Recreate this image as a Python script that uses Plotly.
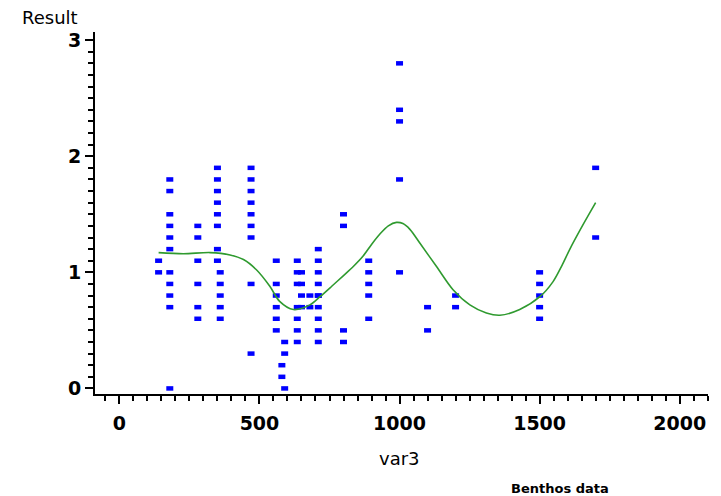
import plotly.graph_objects as go

# scatter data (var3, Result)
var3 = (
    [140, 140]
    + [180] * 11
    + [280] * 6
    + [350] * 8
    + [360] * 5
    + [470] * 9
    + [560] * 6
    + [580, 580]
    + [590, 590, 590]
    + [635, 635, 635, 635, 635, 635, 635]
    + [650, 650, 650, 650]
    + [680, 680]
    + [710] * 10
    + [800] * 4
    + [890] * 5
    + [1000] * 5
    + [1100] * 2
    + [1200] * 2
    + [1500] * 5
    + [1700] * 2
)
result = (
    [1.1, 1.0]
    + [1.8, 1.7, 1.5, 1.4, 1.3, 1.2, 1.0, 0.9, 0.8, 0.7, 0.0]
    + [1.4, 1.3, 1.1, 0.9, 0.7, 0.6]
    + [1.9, 1.8, 1.7, 1.6, 1.5, 1.4, 1.2, 1.1]
    + [1.0, 0.9, 0.8, 0.7, 0.6]
    + [1.9, 1.8, 1.7, 1.6, 1.5, 1.4, 1.3, 0.9, 0.3]
    + [1.1, 0.9, 0.8, 0.7, 0.6, 0.5]
    + [0.2, 0.1]
    + [0.4, 0.3, 0.0]
    + [1.1, 1.0, 0.9, 0.7, 0.6, 0.5, 0.4]
    + [1.0, 0.9, 0.8, 0.7]
    + [0.8, 0.7]
    + [1.2, 1.1, 1.0, 0.9, 0.8, 0.8, 0.7, 0.6, 0.5, 0.4]
    + [1.5, 1.4, 0.5, 0.4]
    + [1.1, 1.0, 0.9, 0.8, 0.6]
    + [2.8, 2.4, 2.3, 1.8, 1.0]
    + [0.7, 0.5]
    + [0.8, 0.7]
    + [1.0, 0.9, 0.8, 0.7, 0.6]
    + [1.9, 1.3]
)

# smoothed fit curve
fit_x = [140, 228, 324, 395, 443, 490, 537, 572, 621, 680, 716, 758, 799, 835,
         870, 900, 930, 960, 989, 1012, 1037, 1073, 1132, 1191, 1251, 1310, 1358,
         1429, 1501, 1548, 1580, 1608, 1655, 1700]
fit_y = [1.17, 1.16, 1.17, 1.15, 1.11, 1.02, 0.88, 0.75, 0.68, 0.72, 0.79, 0.88,
         0.97, 1.05, 1.14, 1.24, 1.33, 1.40, 1.43, 1.42, 1.37, 1.25, 1.05, 0.85, 0.72,
         0.65, 0.63, 0.68, 0.79, 0.92, 1.06, 1.20, 1.41, 1.60]

x_ticks = [0, 500, 1000, 1500, 2000]
y_ticks = [0, 1, 2, 3]

fig = go.Figure()
fig.add_trace(go.Scatter(
    x=var3, y=result, mode="markers",
    marker=dict(symbol="line-ew", size=5, color="#0000ff",
                line=dict(color="#0000ff", width=4.5)),
    showlegend=False, hoverinfo="x+y"))
fig.add_trace(go.Scatter(
    x=fit_x, y=fit_y, mode="lines",
    line=dict(color="#2f9a2f", width=1.6, shape="spline", smoothing=0.9),
    showlegend=False))

L, R, T, B = 95, 708.3, 31.7, 394.3
W, H = 721, 496

def px(xp):
    return (xp - L) / (R - L)

def py(yp):
    return (B - yp) / (B - T)

tickfont = dict(family="DejaVu Sans", size=19, color="black", weight="bold")

fig.update_layout(
    width=W, height=H,
    margin=dict(l=L, r=W - R, t=T, b=H - B, pad=0),
    paper_bgcolor="white", plot_bgcolor="white",
    xaxis=dict(range=[-87, 2101], tickvals=x_ticks, ticktext=[str(v) for v in x_ticks],
               showgrid=False, zeroline=False, showline=True, linecolor="black",
               linewidth=2, ticks="outside", ticklen=8, tickwidth=2, tickcolor="black",
               tickfont=tickfont, ticklabelstandoff=3, automargin=False,
               minor=dict(dtick=50, tick0=0, ticks="outside", ticklen=5, tickwidth=1.5,
                          tickcolor="black", showgrid=False)),
    yaxis=dict(range=[-0.048, 3.07], tickvals=y_ticks, ticktext=[str(v) for v in y_ticks],
               showgrid=False, zeroline=False, showline=True, linecolor="black",
               linewidth=2, ticks="outside", ticklen=8, tickwidth=2, tickcolor="black",
               tickfont=tickfont, ticklabelstandoff=0, automargin=False,
               minor=dict(dtick=0.1, tick0=0, ticks="outside", ticklen=5, tickwidth=1.5,
                          tickcolor="black", showgrid=False)),
    annotations=[
        dict(text="Result", x=px(50), y=py(17), xref="paper", yref="paper",
             xanchor="center", yanchor="middle", showarrow=False,
             font=dict(family="DejaVu Sans", size=18, color="black")),
        dict(text="var3", x=px(400), y=py(459), xref="paper", yref="paper",
             xanchor="center", yanchor="middle", showarrow=False,
             font=dict(family="DejaVu Sans", size=18, color="black")),
        dict(text="Benthos data", x=px(560), y=py(489), xref="paper", yref="paper",
             xanchor="center", yanchor="middle", showarrow=False,
             font=dict(family="DejaVu Sans", size=13, color="black", weight="bold")),
    ],
)

fig.write_html("out.html", config={"displayModeBar": False},
               post_script="document.body.style.margin='0';document.body.style.padding='0';")
